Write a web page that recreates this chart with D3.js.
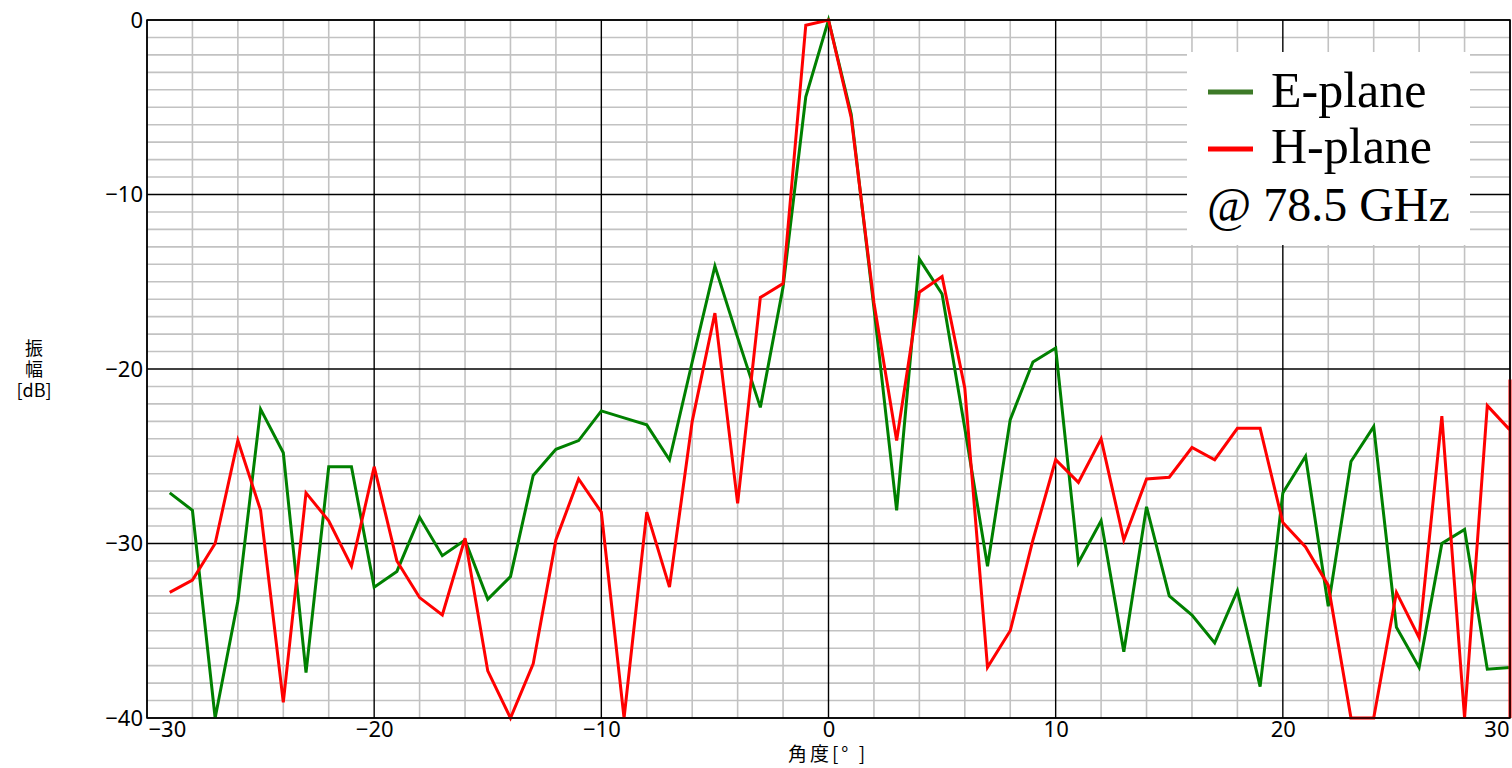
<!DOCTYPE html>
<html>
<head>
<meta charset="utf-8">
<script src="https://cdn.jsdelivr.net/npm/d3@7"></script>
<style>
  html, body { margin: 0; padding: 0; background: #fff; }
  svg { display: block; }
</style>
</head>
<body>
<svg id="chart" width="1512" height="768"></svg>
<script>
// ---- data ----
const angles = [-29,-28,-27,-26,-25,-24,-23,-22,-21,-20,-19,-18,-17,-16,-15,-14,-13,-12,-11,-10,
  -9,-8,-7,-6,-5,-4,-3,-2,-1,0,1,2,3,4,5,6,7,8,9,10,
  11,12,13,14,15,16,17,18,19,20,21,22,23,24,25,26,27,28,29,30];

const ePlane = [-27.1,-28.1,-40,-33.3,-22.3,-24.8,-37.4,-25.6,-25.6,-32.5,-31.6,-28.5,-30.7,-29.8,-33.2,-31.9,-26.1,-24.6,-24.1,-22.4,
  -22.8,-23.2,-25.2,-19.6,-14.1,-18.2,-22.2,-15.3,-4.4,0,-5.4,-16.5,-28.1,-13.7,-15.7,-23.4,-31.3,-22.9,-19.6,-18.8,
  -31.1,-28.7,-36.2,-27.9,-33.0,-34.1,-35.7,-32.7,-38.2,-27.1,-25.0,-33.6,-25.3,-23.3,-34.8,-37.1,-30.0,-29.2,-37.2,-37.1];

const hPlane = [-32.8,-32.1,-30.0,-24.1,-28.1,-39.1,-27.1,-28.7,-31.3,-25.6,-31.0,-33.1,-34.1,-29.7,-37.3,-40,-36.9,-29.8,-26.3,-28.2,
  -40,-28.2,-32.5,-23.0,-16.8,-27.7,-15.9,-15.1,-0.3,0,-5.6,-16.2,-24.1,-15.6,-14.7,-21.1,-37.1,-35.0,-29.8,-25.2,
  -26.5,-24.0,-29.8,-26.3,-26.2,-24.5,-25.2,-23.4,-23.4,-28.8,-30.2,-32.4,-40,-40,-32.8,-35.4,-22.7,-40,-22.1,-23.5];

// H-plane samples beyond the axis range (drawn clamped onto the right edge)
const hBeyondAngles = [31, 32];
const hBeyondValues = [-20.6, -42];

const xTicks = [-30,-20,-10,0,10,20,30];
const yTicks = [0,-10,-20,-30,-40];
const seriesNames = ["E-plane", "H-plane"];
const seriesColors = ["#008000", "#ff0000"];
const legendColors = ["#3d7a28", "#ff0000"];
const freqLabel = "@ 78.5 GHz";
const xTitle = "角度[° ]";
const yTitleLines = ["振", "幅", "[dB]"];

// ---- layout ----
const svg = d3.select("#chart");
const L = 147, R = 1510, T = 20, B = 718;

const x = d3.scaleLinear().domain([-30, 30]).range([L, R]).clamp(true);
const y = d3.scaleLinear().domain([-40, 0]).range([B, T]).clamp(true);

const tickFont = "'Noto Sans', 'Noto Sans CJK JP', sans-serif";
const cjkFont = "'Noto Sans CJK JP', sans-serif";

// minor grid
const gMinor = svg.append("g");
gMinor.selectAll("line.vx").data(d3.range(-30, 31, 2).filter(v => v % 10 !== 0))
  .join("line").attr("x1", d => x(d)).attr("x2", d => x(d)).attr("y1", T).attr("y2", B)
  .attr("stroke", "#c2c2c2").attr("stroke-width", 1.6);
gMinor.selectAll("line.hy").data(d3.range(-40, 1, 1).filter(v => v % 10 !== 0))
  .join("line").attr("x1", L).attr("x2", R).attr("y1", d => y(d)).attr("y2", d => y(d))
  .attr("stroke", "#c2c2c2").attr("stroke-width", 1.6);

// major grid
const gMajor = svg.append("g");
gMajor.selectAll("line.vx").data(xTicks)
  .join("line").attr("x1", d => x(d)).attr("x2", d => x(d)).attr("y1", T).attr("y2", B)
  .attr("stroke", "#000").attr("stroke-width", 1.4);
gMajor.selectAll("line.hy").data(yTicks)
  .join("line").attr("x1", L).attr("x2", R).attr("y1", d => y(d)).attr("y2", d => y(d))
  .attr("stroke", "#000").attr("stroke-width", 1.4);

// lines
const line = d3.line().x(d => x(d[0])).y(d => y(d[1]));
const ePts = angles.map((a, i) => [a, ePlane[i]]);
const hPts = angles.map((a, i) => [a, hPlane[i]])
  .concat(hBeyondAngles.map((a, i) => [a, hBeyondValues[i]]));

svg.append("path").datum(ePts).attr("d", line)
  .attr("fill", "none").attr("stroke", seriesColors[0]).attr("stroke-width", 3)
  .attr("stroke-linejoin", "miter");
svg.append("path").datum(hPts).attr("d", line)
  .attr("fill", "none").attr("stroke", seriesColors[1]).attr("stroke-width", 3)
  .attr("stroke-linejoin", "miter");

// frame
svg.append("rect").attr("x", L).attr("y", T).attr("width", R - L).attr("height", B - T)
  .attr("fill", "none").attr("stroke", "#000").attr("stroke-width", 1.5);

// axes labels via d3 axes (lines hidden, text kept)
const xAxis = svg.append("g").attr("transform", `translate(0,${B})`)
  .call(d3.axisBottom(x).tickValues(xTicks).tickSize(0).tickPadding(3).tickFormat(d3.format("")));
xAxis.select(".domain").remove();
xAxis.selectAll("text").attr("font-family", tickFont).attr("font-size", 22).attr("fill", "#000")
  .attr("dy", "0.74em")
  .attr("text-anchor", (d, i) => i === 0 ? "start" : (i === xTicks.length - 1 ? "end" : "middle"))
  .attr("dx", (d, i) => i === 0 ? 1 : (i === xTicks.length - 1 ? -1 : 0));

const yAxis = svg.append("g").attr("transform", `translate(${L},0)`)
  .call(d3.axisLeft(y).tickValues(yTicks).tickSize(0).tickPadding(4).tickFormat(d3.format("")));
yAxis.select(".domain").remove();
yAxis.selectAll("text").attr("font-family", tickFont).attr("font-size", 22).attr("fill", "#000");

// axis titles
svg.append("text").attr("x", 828).attr("y", 761).attr("text-anchor", "middle")
  .attr("font-family", cjkFont).attr("font-size", 19).attr("letter-spacing", 3).text(xTitle);

const yt = svg.append("g").attr("font-family", cjkFont).attr("font-size", 18).attr("text-anchor", "middle");
yTitleLines.forEach((t, i) => {
  yt.append("text").attr("x", 34).attr("y", 355 + i * 21).text(t);
});

// legend
const lg = svg.append("g");
lg.append("rect").attr("x", 1187).attr("y", 52).attr("width", 283).attr("height", 193).attr("fill", "#fff");
seriesNames.forEach((n, i) => {
  const cy = 92 + i * 57;
  lg.append("line").attr("x1", 1208).attr("x2", 1253).attr("y1", cy).attr("y2", cy)
    .attr("stroke", legendColors[i]).attr("stroke-width", 5);
  lg.append("text").attr("x", 1271).attr("y", 107 + i * 56)
    .attr("font-family", "'Liberation Serif', serif").attr("font-size", 50).attr("fill", "#000").text(n);
});
lg.append("text").attr("x", 1207).attr("y", 221)
  .attr("font-family", "'Liberation Serif', serif").attr("font-size", 48).attr("fill", "#000").text(freqLabel);
</script>
</body>
</html>
